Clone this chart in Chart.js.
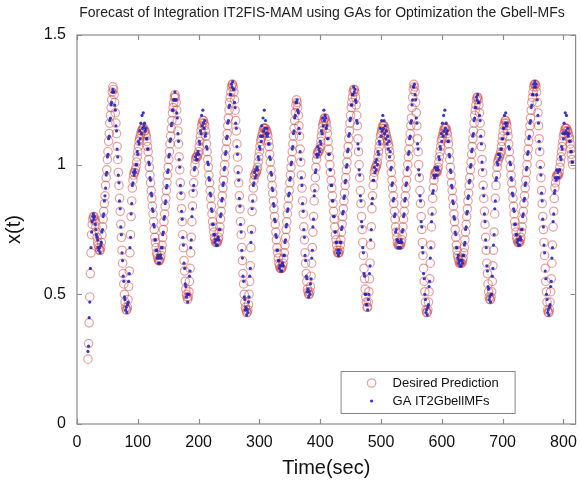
<!DOCTYPE html>
<html lang="en">
<head>
<meta charset="UTF-8">
<title>Forecast of Integration IT2FIS-MAM</title>
<script src="https://cdn.jsdelivr.net/npm/chart.js"></script>
<style>
  html, body { margin: 0; padding: 0; background: #fff; }
</style>
</head>
<body>
<canvas id="chart" width="581" height="485"></canvas>
<script>
// first sample time, one sample per second after that
const startTime = 18;

// desired series
const desired = [
  0.25,0.31,0.39,0.49,0.58,0.66,0.73,0.77,0.79,
  0.80,0.80,0.79,0.78,0.76,0.74,0.72,0.70,0.69,0.68,0.67,0.67,
  0.68,0.70,0.73,0.76,0.79,0.82,0.85,0.88,0.92,0.95,0.98,1.02,1.05,1.09,1.12,1.16,1.19,1.22,1.25,1.28,1.30,
  1.29,1.27,1.24,1.20,1.16,1.12,1.07,1.02,0.97,0.92,0.87,0.82,0.77,0.72,0.67,0.62,0.58,0.54,0.50,0.47,0.45,0.44,0.44,
  0.45,0.48,0.53,0.59,0.66,0.73,0.80,0.86,0.91,0.94,0.96,0.97,0.97,
  0.98,0.99,1.01,1.03,1.05,1.07,1.09,1.10,1.11,1.12,1.13,1.13,1.14,1.14,1.14,1.13,1.13,1.12,
  1.11,1.09,1.07,1.05,1.02,0.99,0.96,0.93,0.90,0.87,0.84,0.81,0.78,0.75,0.72,0.70,0.68,0.66,0.65,0.64,0.63,0.63,0.63,
  0.64,0.65,0.67,0.69,0.72,0.75,0.78,0.81,0.84,0.87,0.90,0.93,0.96,0.99,1.02,1.05,1.08,1.11,1.14,1.17,1.20,1.22,1.24,1.26,1.27,
  1.26,1.24,1.21,1.17,1.13,1.08,1.03,0.98,0.93,0.88,0.83,0.78,0.73,0.68,0.63,0.59,0.55,0.52,0.50,0.49,0.48,
  0.49,0.51,0.55,0.60,0.66,0.72,0.78,0.84,0.89,0.93,0.97,1.00,1.02,1.03,1.03,1.03,
  1.04,1.05,1.07,1.09,1.11,1.13,1.15,1.16,1.17,1.17,
  1.16,1.15,1.13,1.11,1.08,1.05,1.02,0.99,0.96,0.93,0.90,0.87,0.84,0.81,0.78,0.76,0.74,0.72,0.71,0.70,0.70,0.70,0.70,
  0.71,0.72,0.74,0.76,0.79,0.82,0.85,0.88,0.91,0.94,0.97,1.00,1.03,1.06,1.09,1.12,1.15,1.18,1.21,1.24,1.26,1.28,1.30,1.31,1.31,
  1.30,1.28,1.25,1.21,1.17,1.13,1.08,1.03,0.98,0.93,0.88,0.83,0.78,0.73,0.68,0.63,0.58,0.54,0.50,0.47,0.45,0.44,0.43,0.43,
  0.44,0.46,0.50,0.55,0.61,0.68,0.75,0.82,0.87,0.91,0.94,0.96,0.96,0.97,0.97,
  0.98,0.99,1.01,1.03,1.05,1.07,1.09,1.10,1.11,1.12,1.13,1.14,1.14,1.14,1.14,1.13,1.13,1.12,
  1.11,1.09,1.07,1.04,1.01,0.98,0.95,0.92,0.89,0.86,0.83,0.80,0.77,0.74,0.71,0.68,0.66,0.64,0.62,0.61,0.60,0.60,0.60,0.60,0.61,
  0.62,0.64,0.66,0.69,0.72,0.75,0.78,0.81,0.84,0.87,0.90,0.93,0.96,0.99,1.02,1.05,1.08,1.11,1.14,1.17,1.20,1.23,1.25,
  1.24,1.22,1.19,1.15,1.11,1.06,1.01,0.96,0.91,0.86,0.81,0.76,0.71,0.66,0.62,0.58,0.55,0.52,0.51,0.50,0.50,
  0.51,0.53,0.57,0.62,0.68,0.74,0.80,0.86,0.91,0.95,0.99,1.02,1.04,1.05,1.05,1.05,
  1.06,1.07,1.09,1.11,1.13,1.15,1.16,1.17,1.18,1.18,
  1.17,1.16,1.14,1.12,1.09,1.06,1.03,1.00,0.97,0.94,0.91,0.88,0.85,0.82,0.79,0.76,0.73,0.71,0.69,0.67,0.66,0.66,
  0.66,0.67,0.69,0.71,0.74,0.77,0.80,0.83,0.86,0.89,0.92,0.95,0.98,1.01,1.04,1.07,1.10,1.13,1.16,1.19,1.22,1.24,1.26,1.28,1.29,1.29,
  1.28,1.26,1.23,1.19,1.15,1.10,1.05,1.00,0.95,0.90,0.85,0.80,0.75,0.70,0.65,0.60,0.56,0.52,0.49,0.47,0.45,
  0.45,0.47,0.51,0.56,0.62,0.69,0.76,0.83,0.88,0.92,0.95,0.97,0.98,0.99,0.99,
  1.00,1.01,1.03,1.05,1.07,1.09,1.11,1.12,1.13,1.14,1.15,1.15,1.15,1.14,1.13,1.12,1.11,1.10,1.09,1.08,1.07,
  1.05,1.03,1.00,0.97,0.94,0.91,0.88,0.85,0.82,0.79,0.76,0.74,0.72,0.70,0.69,0.69,0.69,0.69,0.69,0.70,
  0.71,0.73,0.76,0.79,0.82,0.85,0.88,0.91,0.94,0.97,1.00,1.03,1.06,1.09,1.12,1.15,1.18,1.22,1.26,1.29,1.31,
  1.30,1.28,1.24,1.20,1.15,1.10,1.05,1.00,0.95,0.90,0.85,0.80,0.75,0.70,0.65,0.60,0.55,0.51,0.47,0.44,0.43,
  0.43,0.44,0.47,0.51,0.56,0.62,0.69,0.76,0.82,0.87,0.91,0.94,0.96,0.97,0.97,0.97,0.97,
  0.98,0.99,1.01,1.03,1.05,1.07,1.09,1.10,1.11,1.12,1.13,1.14,1.14,1.14,1.14,1.13,
  1.12,1.10,1.08,1.05,1.02,0.99,0.96,0.93,0.90,0.87,0.84,0.81,0.78,0.75,0.72,0.69,0.67,0.65,0.64,0.63,0.62,0.62,0.62,0.62,0.62,
  0.63,0.64,0.66,0.68,0.71,0.74,0.77,0.80,0.83,0.86,0.89,0.92,0.95,0.98,1.01,1.04,1.07,1.10,1.13,1.16,1.19,1.21,1.23,1.25,1.26,1.26,
  1.25,1.23,1.20,1.16,1.12,1.07,1.02,0.97,0.92,0.87,0.82,0.77,0.72,0.67,0.62,0.58,0.54,0.51,0.49,0.48,0.48,
  0.49,0.51,0.55,0.61,0.67,0.74,0.81,0.87,0.92,0.96,0.99,1.01,1.02,1.03,1.03,
  1.04,1.05,1.07,1.09,1.11,1.13,1.15,1.16,1.17,1.17,
  1.16,1.15,1.13,1.11,1.08,1.05,1.02,0.99,0.96,0.93,0.90,0.87,0.84,0.81,0.78,0.76,0.74,0.72,0.71,0.70,0.70,0.70,0.70,
  0.71,0.72,0.74,0.76,0.79,0.82,0.85,0.88,0.91,0.94,0.97,1.00,1.03,1.06,1.09,1.12,1.15,1.18,1.21,1.24,1.26,1.28,1.30,1.31,1.31,1.31,
  1.30,1.28,1.24,1.20,1.15,1.10,1.05,1.00,0.95,0.90,0.85,0.80,0.75,0.70,0.65,0.60,0.55,0.51,0.47,0.44,0.43,
  0.43,0.44,0.47,0.51,0.56,0.62,0.69,0.76,0.82,0.87,0.91,0.93,0.95,0.96,0.96,0.96,0.96,
  0.97,0.99,1.01,1.03,1.05,1.07,1.09,1.11,1.12,1.13,1.14,1.14,1.14,
  1.13,1.13,1.12,1.11,1.10,1.08,1.06,1.04,1.02,1.00
];

// GA output
const gaOutput = [
  0.28,0.30,0.41,0.47,0.60,0.68,0.74,0.78,0.80,
  0.81,0.79,0.80,0.77,0.75,0.73,0.72,0.71,0.68,0.67,0.68,0.66,
  0.69,0.70,0.74,0.75,0.80,0.81,0.86,0.88,0.91,0.96,0.97,1.03,1.04,1.10,1.11,1.17,1.18,1.23,1.24,1.28,1.29,
  1.28,1.28,1.23,1.21,1.15,1.13,1.06,1.03,0.96,0.93,0.86,0.83,0.76,0.73,0.66,0.63,0.57,0.55,0.49,0.48,0.44,0.45,0.43,
  0.46,0.47,0.55,0.58,0.68,0.72,0.81,0.85,0.92,0.93,0.97,0.96,0.98,
  0.97,1.00,1.00,1.05,1.04,1.09,1.08,1.13,1.10,1.16,1.12,1.19,1.14,1.20,1.15,1.16,1.13,1.14,
  1.10,1.10,1.06,1.06,1.01,1.00,0.95,0.94,0.89,0.88,0.83,0.82,0.77,0.76,0.71,0.71,0.67,0.67,0.64,0.65,0.62,0.64,0.62,
  0.65,0.64,0.68,0.68,0.73,0.74,0.79,0.80,0.85,0.86,0.91,0.92,0.97,0.98,1.03,1.04,1.09,1.10,1.15,1.16,1.21,1.21,1.25,1.25,1.28,
  1.25,1.25,1.20,1.18,1.12,1.09,1.02,0.99,0.92,0.89,0.82,0.79,0.72,0.69,0.62,0.60,0.54,0.53,0.49,0.50,0.47,
  0.50,0.50,0.57,0.59,0.68,0.71,0.80,0.83,0.90,0.92,0.98,0.99,1.03,1.02,1.04,1.02,
  1.05,1.04,1.09,1.08,1.13,1.12,1.19,1.15,1.21,1.16,
  1.14,1.17,1.11,1.12,1.07,1.06,1.01,1.00,0.95,0.94,0.89,0.88,0.83,0.82,0.77,0.77,0.73,0.73,0.70,0.71,0.69,0.71,0.69,
  0.72,0.71,0.75,0.75,0.80,0.81,0.86,0.87,0.92,0.93,0.98,0.99,1.04,1.05,1.10,1.11,1.16,1.17,1.22,1.23,1.27,1.27,1.31,1.30,1.32,
  1.29,1.29,1.24,1.22,1.16,1.14,1.07,1.04,0.97,0.94,0.87,0.84,0.77,0.74,0.67,0.64,0.57,0.55,0.49,0.48,0.44,0.45,0.42,0.44,
  0.43,0.47,0.49,0.57,0.60,0.70,0.74,0.83,0.86,0.92,0.93,0.97,0.95,0.98,0.96,
  0.99,0.98,1.03,1.02,1.07,1.06,1.11,1.09,1.15,1.11,1.18,1.13,1.21,1.14,1.17,1.12,1.14,1.11,
  1.12,1.08,1.08,1.03,1.02,0.97,0.96,0.91,0.90,0.85,0.84,0.79,0.78,0.73,0.72,0.67,0.67,0.63,0.63,0.60,0.61,0.59,0.61,0.59,0.62,
  0.61,0.65,0.65,0.70,0.71,0.76,0.77,0.82,0.83,0.88,0.89,0.94,0.95,1.00,1.01,1.06,1.07,1.12,1.13,1.18,1.19,1.24,1.24,
  1.25,1.21,1.20,1.14,1.12,1.05,1.02,0.95,0.92,0.85,0.82,0.75,0.72,0.65,0.63,0.57,0.56,0.51,0.52,0.49,0.51,
  0.50,0.54,0.56,0.64,0.67,0.76,0.79,0.88,0.90,0.97,0.98,1.04,1.03,1.07,1.04,1.06,
  1.05,1.09,1.08,1.13,1.12,1.18,1.15,1.21,1.17,1.19,
  1.18,1.14,1.15,1.10,1.10,1.04,1.04,0.98,0.98,0.92,0.92,0.86,0.86,0.80,0.80,0.74,0.74,0.70,0.70,0.66,0.67,0.65,
  0.67,0.66,0.70,0.70,0.75,0.76,0.81,0.82,0.87,0.88,0.93,0.94,0.99,1.00,1.05,1.06,1.11,1.12,1.17,1.18,1.23,1.23,1.27,1.27,1.30,1.28,
  1.29,1.25,1.24,1.17,1.16,1.08,1.06,0.98,0.96,0.88,0.86,0.78,0.76,0.68,0.66,0.58,0.57,0.50,0.50,0.46,0.46,
  0.44,0.48,0.50,0.58,0.61,0.71,0.75,0.85,0.87,0.94,0.94,0.99,0.97,1.01,0.98,
  1.02,1.00,1.05,1.04,1.09,1.08,1.14,1.11,1.17,1.13,1.19,1.14,1.17,1.12,1.15,1.10,1.13,1.08,1.11,1.06,1.09,
  1.03,1.05,0.98,0.99,0.92,0.93,0.86,0.87,0.80,0.81,0.74,0.75,0.71,0.71,0.68,0.70,0.68,0.70,0.68,0.71,
  0.70,0.74,0.75,0.80,0.81,0.86,0.87,0.92,0.93,0.98,0.99,1.04,1.05,1.10,1.11,1.16,1.17,1.23,1.25,1.30,1.30,
  1.31,1.27,1.25,1.18,1.16,1.08,1.06,0.98,0.96,0.88,0.86,0.78,0.76,0.68,0.66,0.58,0.56,0.50,0.48,0.43,0.44,
  0.42,0.45,0.46,0.53,0.55,0.64,0.68,0.78,0.81,0.89,0.90,0.96,0.95,0.99,0.96,0.98,0.96,
  0.99,0.98,1.03,1.02,1.07,1.06,1.12,1.09,1.16,1.11,1.19,1.13,1.21,1.14,1.16,1.12,
  1.13,1.09,1.09,1.04,1.03,0.98,0.97,0.92,0.91,0.86,0.85,0.80,0.79,0.74,0.73,0.68,0.68,0.64,0.65,0.62,0.63,0.61,0.63,0.61,0.63,
  0.62,0.65,0.65,0.69,0.70,0.75,0.76,0.81,0.82,0.87,0.88,0.93,0.94,0.99,1.00,1.05,1.06,1.11,1.12,1.17,1.18,1.22,1.22,1.26,1.25,1.27,
  1.24,1.24,1.19,1.17,1.11,1.08,1.01,0.98,0.91,0.88,0.81,0.78,0.71,0.68,0.61,0.59,0.53,0.52,0.48,0.49,0.47,
  0.50,0.50,0.57,0.60,0.69,0.73,0.83,0.86,0.94,0.95,1.01,1.00,1.04,1.02,1.04,
  1.03,1.06,1.06,1.10,1.10,1.14,1.14,1.19,1.16,1.20,
  1.15,1.16,1.12,1.12,1.07,1.06,1.01,1.00,0.95,0.94,0.89,0.88,0.83,0.82,0.77,0.77,0.73,0.73,0.70,0.71,0.69,0.71,0.69,
  0.72,0.71,0.75,0.75,0.80,0.81,0.86,0.87,0.92,0.93,0.98,0.99,1.04,1.05,1.10,1.11,1.16,1.17,1.22,1.23,1.27,1.27,1.31,1.30,1.32,1.30,
  1.31,1.27,1.25,1.19,1.16,1.09,1.06,0.99,0.96,0.89,0.86,0.79,0.76,0.69,0.66,0.59,0.56,0.50,0.48,0.43,0.44,
  0.42,0.45,0.46,0.53,0.55,0.64,0.68,0.78,0.81,0.89,0.90,0.95,0.94,0.98,0.95,0.97,0.95,
  0.98,0.98,1.03,1.02,1.07,1.06,1.12,1.10,1.16,1.12,1.20,1.13,1.19,
  1.12,1.14,1.11,1.12,1.09,1.09,1.05,1.05,1.01,1.01
];

const xTicks = [0, 100, 200, 300, 400, 500, 600, 700, 800];
const yTicks = [0, 0.5, 1, 1.5];
const seriesNames = ['Desired Prediction', 'GA IT2GbellMFs'];
const chartTitle = 'Forecast of Integration IT2FIS-MAM using GAs for Optimization the Gbell-MFs';

const circleColor = 'rgba(205,70,70,0.5)';
const dotColor = 'rgba(35,35,190,0.9)';
const fontName = '"Liberation Sans", Arial, sans-serif';

function toPoints(values) {
  return values.map((v, i) => ({ x: startTime + i, y: v }));
}

// title over the plot, box, inward ticks on all four sides and the legend inside the plot
const matlabAxes = {
  id: 'matlabAxes',
  afterDatasetsDraw(chart) {
    const ctx = chart.ctx;
    const a = chart.chartArea;
    const xs = chart.scales.x, ys = chart.scales.y;
    ctx.save();

    ctx.fillStyle = '#222';
    ctx.font = '14px ' + fontName;
    ctx.textAlign = 'center';
    ctx.textBaseline = 'middle';
    ctx.fillText(chartTitle, 322, 13);
    ctx.textAlign = 'left';

    ctx.strokeStyle = '#8c8c8c';
    ctx.lineWidth = 1.2;
    ctx.strokeRect(a.left, a.top, a.right - a.left, a.bottom - a.top);
    ctx.beginPath();
    xTicks.forEach(v => {
      const px = Math.round(xs.getPixelForValue(v)) + 0.5;
      ctx.moveTo(px, a.bottom); ctx.lineTo(px, a.bottom - 5);
      ctx.moveTo(px, a.top); ctx.lineTo(px, a.top + 5);
    });
    yTicks.forEach(v => {
      const py = Math.round(ys.getPixelForValue(v)) + 0.5;
      ctx.moveTo(a.left, py); ctx.lineTo(a.left + 5, py);
      ctx.moveTo(a.right, py); ctx.lineTo(a.right - 5, py);
    });
    ctx.stroke();

    // legend box
    const bx = a.right - 235, by = a.bottom - 53, bw = 174, bh = 42;
    ctx.fillStyle = '#fff';
    ctx.fillRect(bx, by, bw, bh);
    ctx.strokeStyle = '#888';
    ctx.lineWidth = 1;
    ctx.strokeRect(bx + 0.5, by + 0.5, bw, bh);

    ctx.beginPath();
    ctx.arc(bx + 31, by + 12, 4.2, 0, Math.PI * 2);
    ctx.strokeStyle = circleColor;
    ctx.lineWidth = 1.3;
    ctx.stroke();
    ctx.beginPath();
    ctx.arc(bx + 31, by + 30, 1.6, 0, Math.PI * 2);
    ctx.fillStyle = dotColor;
    ctx.fill();

    ctx.fillStyle = '#111';
    ctx.font = '13px ' + fontName;
    ctx.textBaseline = 'middle';
    ctx.fillText(seriesNames[0], bx + 52, by + 12);
    ctx.fillText(seriesNames[1], bx + 52, by + 30);
    ctx.restore();
  }
};

new Chart(document.getElementById('chart'), {
  type: 'scatter',
  data: {
    datasets: [
      {
        label: seriesNames[0],
        data: toPoints(desired),
        pointStyle: 'circle',
        pointRadius: 4.2,
        pointBorderWidth: 1.2,
        borderColor: circleColor,
        backgroundColor: 'rgba(0,0,0,0)',
        order: 2
      },
      {
        label: seriesNames[1],
        data: toPoints(gaOutput),
        pointStyle: 'circle',
        pointRadius: 1.6,
        pointBorderWidth: 0,
        borderColor: dotColor,
        backgroundColor: dotColor,
        order: 1
      }
    ]
  },
  options: {
    responsive: false,
    animation: false,
    layout: { padding: { top: 35, right: 4, left: 0, bottom: 0 } },
    plugins: {
      legend: { display: false },
      tooltip: { enabled: false },
      title: { display: false }
    },
    scales: {
      x: {
        type: 'linear',
        min: 0,
        max: 820,
        afterBuildTicks: s => { s.ticks = xTicks.map(v => ({ value: v })); },
        afterFit: s => { s.height = 61; s.paddingLeft = 0; s.paddingRight = 0; },
        grid: { display: false, drawTicks: false },
        border: { display: false },
        ticks: { color: '#111', padding: 9, font: { family: fontName, size: 16 } },
        title: {
          display: true,
          text: 'Time(sec)',
          color: '#111',
          font: { family: fontName, size: 20 },
          padding: { top: 0, bottom: 5 }
        }
      },
      y: {
        min: 0,
        max: 1.5,
        afterBuildTicks: s => { s.ticks = yTicks.map(v => ({ value: v })); },
        afterFit: s => { s.width = 77; s.paddingTop = 0; s.paddingBottom = 0; },
        grid: { display: false, drawTicks: false },
        border: { display: false },
        ticks: {
          color: '#111',
          padding: 11,
          font: { family: fontName, size: 16 },
          callback: v => String(v)
        },
        title: {
          display: true,
          text: 'x(t)',
          color: '#111',
          font: { family: fontName, size: 20 },
          padding: { top: 2, bottom: 0 }
        }
      }
    }
  },
  plugins: [matlabAxes]
});
</script>
</body>
</html>
